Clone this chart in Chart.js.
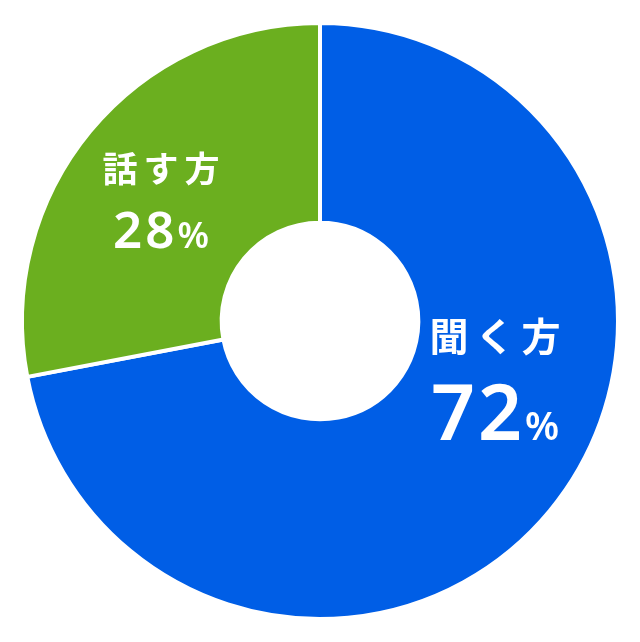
<!DOCTYPE html>
<html>
<head>
<meta charset="utf-8">
<script src="https://cdn.jsdelivr.net/npm/chart.js@4"></script>
<style>
  html, body { margin: 0; padding: 0; background: #fff; }
  #wrap { width: 640px; height: 642px; }
</style>
</head>
<body>
<div id="wrap"><canvas id="pie"></canvas></div>
<script>
const labels = ['聞く方', '話す方'];
const shares = [72, 28];
const colors = ['#005EE6', '#6BAF1F'];

// where each label group sits, relative to the chart centre
const labelOffsets = [
  { dx: 175, dy: 15, name: 39, big: 77, pct: 39, base: 119, nameSp: 7 },
  { dx: -159, dy: -152, name: 35, big: 51, pct: 36, base: -73, nameSp: 6 }
];

const sliceLabels = {
  id: 'sliceLabels',
  afterDatasetsDraw(chart) {
    const ctx = chart.ctx;
    const arc = chart.getDatasetMeta(0).data[0];
    const cx = arc.x, cy = arc.y;
    ctx.save();
    ctx.fillStyle = '#fff';
    labels.forEach((name, i) => {
      const o = labelOffsets[i];
      const x = cx + o.dx;

      ctx.textAlign = 'center';
      ctx.textBaseline = 'middle';
      ctx.font = `bold ${o.name}px "Noto Sans CJK JP"`;
      ctx.letterSpacing = o.nameSp + 'px';
      ctx.fillText(name, x + o.nameSp / 2, cy + o.dy);

      const num = String(shares[i]);
      ctx.textBaseline = 'alphabetic';
      ctx.font = `600 ${o.big}px "Noto Sans"`;
      ctx.letterSpacing = '3px';
      const wNum = ctx.measureText(num).width;
      ctx.font = `600 ${o.pct}px "Noto Sans"`;
      ctx.letterSpacing = '0px';
      const wPct = ctx.measureText('%').width;
      const start = x - (wNum + wPct) / 2;
      ctx.textAlign = 'left';
      ctx.font = `600 ${o.big}px "Noto Sans"`;
      ctx.letterSpacing = '3px';
      ctx.fillText(num, start, cy + o.base);
      ctx.font = `600 ${o.pct}px "Noto Sans"`;
      ctx.letterSpacing = '0px';
      ctx.fillText('%', start + wNum, cy + o.base);
    });
    ctx.restore();
  }
};

new Chart(document.getElementById('pie'), {
  type: 'doughnut',
  data: {
    labels,
    datasets: [{
      data: shares,
      backgroundColor: colors,
      borderColor: '#fff',
      borderWidth: 4,
      hoverOffset: 0
    }]
  },
  options: {
    responsive: true,
    maintainAspectRatio: false,
    animation: false,
    cutout: '33%',
    layout: { padding: 20 },
    plugins: {
      legend: { display: false },
      tooltip: { enabled: false }
    }
  },
  plugins: [sliceLabels]
});
</script>
</body>
</html>
